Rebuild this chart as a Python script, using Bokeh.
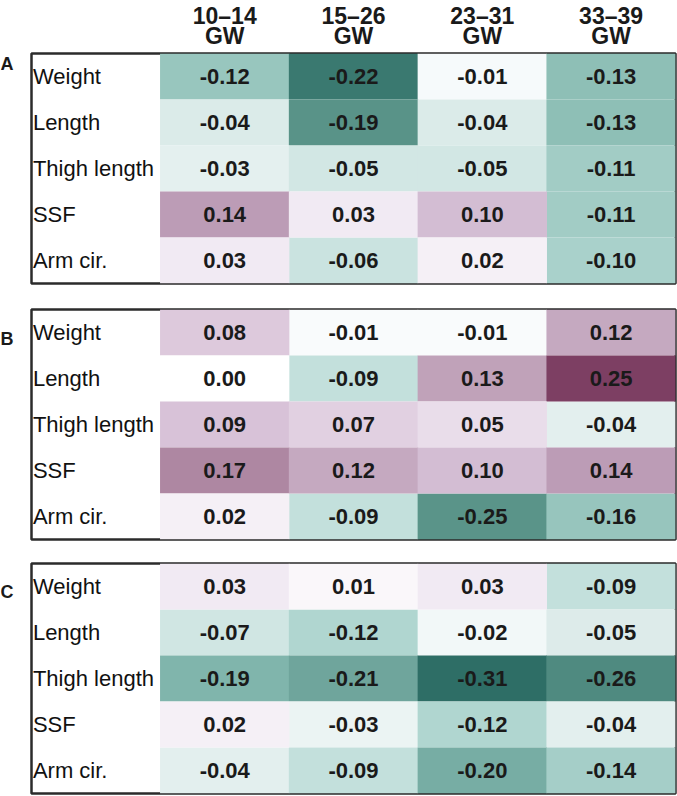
import numpy as np
from bokeh.plotting import figure
from bokeh.models import ColumnDataSource, FactorRange, Range1d, LinearColorMapper
from bokeh.layouts import column, row
from bokeh.core.properties import value
from bokeh.embed import file_html
from bokeh.resources import INLINE

# ---------------- data ----------------
gw_ranges = ["10–14", "15–26", "23–31", "33–39"]
gw_unit = "GW"
rows = ["Weight", "Length", "Thigh length", "SSF", "Arm cir."]
panel_names = ["A", "B", "C"]

panel_a = [[-0.12, -0.22, -0.01, -0.13],
           [-0.04, -0.19, -0.04, -0.13],
           [-0.03, -0.05, -0.05, -0.11],
           [0.14, 0.03, 0.10, -0.11],
           [0.03, -0.06, 0.02, -0.10]]
panel_b = [[0.08, -0.01, -0.01, 0.12],
           [0.00, -0.09, 0.13, 0.25],
           [0.09, 0.07, 0.05, -0.04],
           [0.17, 0.12, 0.10, 0.14],
           [0.02, -0.09, -0.25, -0.16]]
panel_c = [[0.03, 0.01, 0.03, -0.09],
           [-0.07, -0.12, -0.02, -0.05],
           [-0.19, -0.21, -0.31, -0.26],
           [0.02, -0.03, -0.12, -0.04],
           [-0.04, -0.09, -0.20, -0.14]]
panels = [panel_a, panel_b, panel_c]

# ---------------- colour scales (style) ----------------
neg_stops = [(0.0, "#FFFFFF"), (0.01, "#F8FBFC"), (0.02, "#F2F8F8"), (0.04, "#E3EFEE"),
             (0.05, "#DCEBEA"), (0.09, "#C3E0DC"), (0.12, "#B0D6D0"), (0.14, "#A5CEC8"),
             (0.16, "#97C5BD"), (0.19, "#80B5AC"), (0.21, "#6FA59C"), (0.25, "#5A9489"),
             (0.26, "#4F8A80"), (0.31, "#2E6E66"), (0.33, "#2A6860")]
pos_stops = [(0.0, "#FFFFFF"), (0.01, "#F9F6FA"), (0.02, "#F5F0F6"), (0.03, "#F1EAF3"),
             (0.05, "#E9DCEA"), (0.07, "#E1D0E1"), (0.08, "#DDC9DC"), (0.09, "#D8C2D8"),
             (0.10, "#D3BDD3"), (0.12, "#C5A9C0"), (0.13, "#C0A2B9"), (0.14, "#BC9CB6"),
             (0.17, "#AE87A2"), (0.25, "#7D3F63"), (0.33, "#6A2A52")]
SCALE_MAX = 0.33
# per-panel limits of the colour scale (negative side, positive side)
panel_limits = [(0.25, 0.33), (0.33, 0.33), (0.33, 0.33)]


def make_palette(stops, reverse=False):
    sv = np.array([s[0] for s in stops])
    rgb = np.array([[int(s[1][i:i + 2], 16) for i in (1, 3, 5)] for s in stops], dtype=float)
    out = []
    for g in np.linspace(0, SCALE_MAX, 256):
        c = [int(round(np.interp(g, sv, rgb[:, k]))) for k in range(3)]
        out.append("#%02x%02x%02x" % tuple(c))
    return out[::-1] if reverse else out


neg_palette = make_palette(neg_stops, reverse=True)   # index 0 -> most negative
pos_palette = make_palette(pos_stops)

FONT = value("Liberation Sans")
col_factors = ["lbl"] + [r + " " + gw_unit for r in gw_ranges]
x_range = FactorRange(factors=col_factors)

LET_W = 29
W = 648
ML, MR = 2, 2
FH = 230

# ---------------- header ----------------
HH = 51
hdr = figure(width=LET_W + W, height=HH, x_range=x_range, y_range=Range1d(0, HH), title=None,
             output_backend="svg", toolbar_location=None,
             x_axis_location=None, y_axis_location=None,
             min_border_left=LET_W + ML, min_border_right=MR, min_border_top=0, min_border_bottom=0)
hdr.outline_line_color = None
hdr.xgrid.visible = False
hdr.ygrid.visible = False
n = len(gw_ranges)
hsrc = ColumnDataSource(dict(x=col_factors[1:], top=gw_ranges, bot=[gw_unit] * n,
                             y1=[HH - 15] * n, y2=[HH - 35] * n))
for yk, tk in (("y1", "top"), ("y2", "bot")):
    hdr.text(x="x", y=yk, text=tk, source=hsrc, text_align="center", text_baseline="alphabetic",
             text_font=FONT, text_font_style="bold", text_font_size="23px", text_color="#1a1a1a")

items = [hdr]
tops = [2, 24, 22]
for name, vals, mt, (lneg, lpos) in zip(panel_names, panels, tops, panel_limits):
    H = FH + mt + 2
    # letter strip
    lf = figure(width=LET_W, height=H, x_range=Range1d(0, LET_W), y_range=Range1d(0, H), title=None,
                output_backend="svg", toolbar_location=None,
                x_axis_location=None, y_axis_location=None,
                min_border_left=0, min_border_right=0, min_border_top=0, min_border_bottom=0)
    lf.outline_line_color = None
    lf.xgrid.visible = False
    lf.ygrid.visible = False
    lf.text(x=[0], y=[H - mt + 2], text=[name], text_align="left", text_baseline="top",
            text_font=FONT, text_font_style="bold", text_font_size="18px", text_color="#1a1a1a")

    p = figure(width=W, height=H, x_range=x_range,
               y_range=FactorRange(factors=list(reversed(rows))), title=None,
               output_backend="svg", toolbar_location=None,
               x_axis_location=None, y_axis_location=None,
               min_border_left=ML, min_border_right=MR, min_border_top=mt, min_border_bottom=2)
    p.xgrid.visible = False
    p.ygrid.visible = False
    p.outline_line_color = "#2b2b2b"
    p.outline_line_width = 2.5
    cells = {"neg": dict(x=[], y=[], v=[]), "pos": dict(x=[], y=[], v=[])}
    allc = dict(x=[], y=[], t=[])
    for i, r in enumerate(rows):
        for j, c in enumerate(col_factors[1:]):
            v = vals[i][j]
            d = cells["neg" if v < 0 else "pos"]
            d["x"].append(c); d["y"].append(r); d["v"].append(v)
            allc["x"].append(c); allc["y"].append(r); allc["t"].append("%.2f" % v)
    nm = LinearColorMapper(palette=neg_palette, low=-lneg, high=0)
    pm = LinearColorMapper(palette=pos_palette, low=0, high=lpos)
    p.rect(x="x", y="y", width=1.004, height=1.004, source=ColumnDataSource(cells["neg"]),
           fill_color={"field": "v", "transform": nm}, line_color=None)
    p.rect(x="x", y="y", width=1.004, height=1.004, source=ColumnDataSource(cells["pos"]),
           fill_color={"field": "v", "transform": pm}, line_color=None)
    p.text(x="x", y="y", text="t", source=ColumnDataSource(allc), text_align="center",
           text_baseline="middle", text_font=FONT, text_font_style="bold",
           text_font_size="22px", text_color="#1a1a1a")
    lsrc = ColumnDataSource(dict(x=["lbl"] * len(rows), y=rows, t=rows))
    p.text(x="x", y="y", text="t", source=lsrc, x_offset=-63, text_align="left",
           text_baseline="middle", text_font=FONT, text_font_size="22px", text_color="#111111")
    items.append(row(lf, p, spacing=0))

layout = column(*items, spacing=0)
open("out.html", "w").write(file_html(layout, INLINE))
